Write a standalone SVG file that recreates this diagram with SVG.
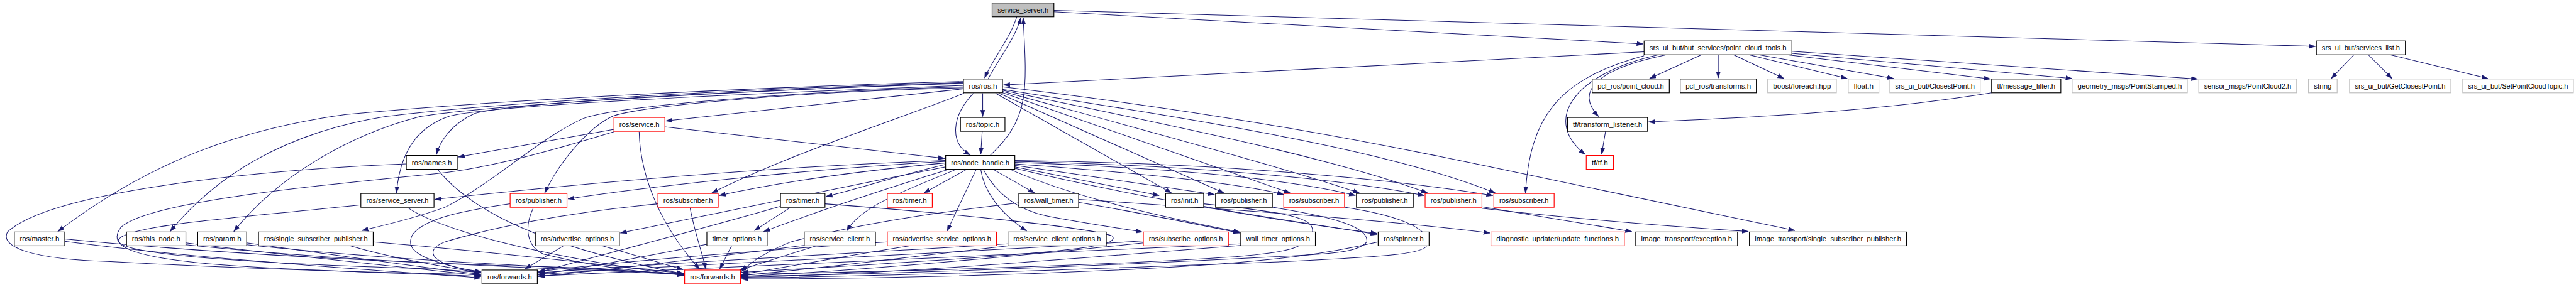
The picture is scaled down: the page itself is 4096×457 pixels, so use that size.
<svg xmlns="http://www.w3.org/2000/svg" width="4096" height="457" viewBox="0 0 4096 457">
<style>
.b rect{fill:#fff;stroke:#000;stroke-width:1.5}
.r rect{fill:#fff;stroke:#f00;stroke-width:1.5}
.g rect{fill:#fff;stroke:#bfbfbf;stroke-width:1.5}
.root rect{fill:#bfbfbf;stroke:#000;stroke-width:1.5}
text{font-family:"Liberation Sans",Arial,sans-serif;font-size:13.5px;text-anchor:middle;fill:#000}
#edges path{fill:none;stroke:#191970;stroke-width:1.3;marker-end:url(#ah)}
</style>
<defs>
<marker id="ah" markerUnits="userSpaceOnUse" markerWidth="14" markerHeight="10" refX="13" refY="5" orient="auto"><path d="M0,0.5 L13,5 L0,9.5 z" fill="#191970" stroke="#191970" stroke-width="0.5"/></marker>
</defs>
<rect width="4096" height="457" fill="#fff"/>
<g transform="scale(0.786)">
<g id="edges">
<path d="M2057,34 C2045,75 2005,125 1992,158"/>
<path d="M1999,160 C2020,120 2055,75 2065,36"/>
<path d="M2003,315 C2035,285 2062,250 2070,200 C2078,150 2072,90 2070,36"/>
<path d="M2132,24 L3324,89"/>
<path d="M2132,21 L4684,94"/>
<path d="M3326,105 L2030,172"/>
<path d="M1988,189 L1988,236"/>
<path d="M1969,189 C1925,235 1920,290 1963,314"/>
<path d="M1987,266 L1984,313"/>
<path d="M3442,111 L3337,159"/>
<path d="M3476,111 L3476,158"/>
<path d="M3507,111 L3609,159"/>
<path d="M3538,111 L3737,159"/>
<path d="M3558,111 L3831,159"/>
<path d="M3615,111 L4027,160"/>
<path d="M3625,108 L4192,159"/>
<path d="M3625,104 L4446,160"/>
<path d="M3371,111 C3230,140 3185,185 3234,236"/>
<path d="M3355,111 C3180,150 3120,245 3207,313"/>
<path d="M3326,113 C3150,160 3095,240 3086,391"/>
<path d="M3248,266 L3240,313"/>
<path d="M4029,188 C3800,225 3550,238 3335,247"/>
<path d="M4762,111 L4716,159"/>
<path d="M4791,111 L4839,159"/>
<path d="M4835,111 L5033,159"/>
<path d="M1949,180 L1347,245"/>
<path d="M1949,168 C1500,185 1050,205 960,230 C915,250 890,285 883,313"/>
<path d="M1949,165 C1500,178 1000,203 700,232 C480,262 300,330 117,469"/>
<path d="M1949,167 C1500,180 1000,208 780,236 C600,265 450,340 344,469"/>
<path d="M1949,169 C1500,183 1000,212 850,236 C700,275 560,360 473,469"/>
<path d="M1949,173 C1500,190 1000,212 910,235 C850,255 810,300 802,391"/>
<path d="M1949,176 C1600,185 1250,215 1180,240 C1090,280 1000,370 900,420 C830,445 770,458 732,467"/>
<path d="M1949,178 C1600,186 1300,215 1240,235 C1190,258 1130,330 1102,391"/>
<path d="M1950,189 C1850,230 1600,310 1440,391"/>
<path d="M2014,189 L2370,391"/>
<path d="M2021,189 L2476,391"/>
<path d="M2026,187 L2610,391"/>
<path d="M2028,185 C2300,260 2600,340 2750,391"/>
<path d="M2028,183 C2350,250 2700,320 2888,391"/>
<path d="M2028,181 C2400,240 2800,300 3025,391"/>
<path d="M2028,176 C2400,220 2700,272 3000,335 L3631,467"/>
<path d="M1345,257 L1911,321"/>
<path d="M1242,262 L927,318"/>
<path d="M1242,267 C1150,295 1000,340 880,352 C600,380 300,410 245,460 C215,500 260,525 500,540 C700,552 900,556 973,560"/>
<path d="M1293,267 C1295,350 1330,450 1415,545"/>
<path d="M822,332 C500,345 100,390 15,470 C0,500 60,525 224,530 C500,545 800,553 973,556"/>
<path d="M885,343 C940,410 1050,490 1383,555"/>
<path d="M730,415 C500,440 260,455 240,485 C230,510 400,530 880,545 L973,552"/>
<path d="M825,421 C900,470 1100,520 1383,558"/>
<path d="M131,489 C400,525 800,550 973,563"/>
<path d="M131,484 C500,520 900,535 1100,540 C1250,545 1330,552 1383,557"/>
<path d="M376,492 C600,520 850,545 973,558"/>
<path d="M376,496 C700,530 1000,538 1383,556"/>
<path d="M499,492 C700,520 880,545 973,556"/>
<path d="M499,496 C800,528 1100,540 1383,555"/>
<path d="M709,498 C800,525 900,540 973,553"/>
<path d="M755,490 C1000,510 1250,540 1383,554"/>
<path d="M1032,413 C950,425 860,440 835,475 C815,510 860,530 973,552"/>
<path d="M1079,421 C1060,460 1065,500 1100,515 C1200,540 1300,552 1383,557"/>
<path d="M1140,498 L1062,545"/>
<path d="M1219,498 L1382,546"/>
<path d="M1396,421 C1405,470 1420,510 1428,545"/>
<path d="M1331,413 C1150,430 1000,460 900,490 C850,510 880,540 973,550"/>
<path d="M1598,421 L1526,467"/>
<path d="M1579,418 C1400,470 1200,520 1089,552"/>
<path d="M1669,413 C1900,430 2200,460 2250,478 C2265,495 2200,505 2000,520 C1800,535 1600,545 1500,552"/>
<path d="M1430,495 C1300,520 1200,540 1089,556"/>
<path d="M1480,498 L1456,545"/>
<path d="M1627,497 C1450,520 1250,545 1089,560"/>
<path d="M1651,498 L1496,547"/>
<path d="M1913,327 C1600,345 1300,380 1149,403"/>
<path d="M1913,325 C1500,340 1100,380 880,404"/>
<path d="M1913,330 C1700,350 1550,375 1455,396"/>
<path d="M1913,333 C1800,360 1730,385 1671,398"/>
<path d="M1913,338 C1700,380 1500,420 1255,472"/>
<path d="M1920,343 C1800,380 1650,430 1545,469"/>
<path d="M1935,343 C1820,390 1740,420 1713,468"/>
<path d="M1956,343 L1869,391"/>
<path d="M2009,343 L2093,391"/>
<path d="M1975,343 L1916,468"/>
<path d="M1984,343 C1990,385 2020,430 2077,468"/>
<path d="M1989,343 C2017,395 2060,425 2115,437 C2180,450 2250,460 2311,470"/>
<path d="M2053,338 L2345,396"/>
<path d="M2053,335 L2457,394"/>
<path d="M2053,332 C2300,350 2500,370 2597,394"/>
<path d="M2053,329 C2350,340 2600,360 2742,396"/>
<path d="M2053,327 C2400,335 2700,360 2881,396"/>
<path d="M2053,325 C2450,330 2800,360 3020,396"/>
<path d="M2043,343 C2150,390 2300,430 2508,470"/>
<path d="M2053,341 C2300,400 2600,450 2786,473"/>
<path d="M2182,404 C2500,425 2800,445 3014,472"/>
<path d="M2182,410 C2300,430 2400,450 2508,472"/>
<path d="M2061,411 C1900,430 1750,450 1600,490 C1550,510 1520,530 1500,550"/>
<path d="M2435,418 C2550,440 2700,460 2786,475"/>
<path d="M2435,413 C2600,430 2660,440 2655,470 C2640,500 2620,510 2500,520 C2200,540 1800,550 1500,556"/>
<path d="M2574,420 C2700,440 2770,460 2765,490 C2750,510 2700,515 2580,520 C2200,540 1800,555 1500,560"/>
<path d="M2720,420 C2850,440 2900,470 2885,500 C2870,515 2800,520 2600,530 C2200,545 1800,560 1500,563"/>
<path d="M2998,419 L3301,469"/>
<path d="M2998,422 C3200,445 3400,460 3537,469"/>
<path d="M1840,498 C1700,520 1600,540 1500,556"/>
<path d="M2039,498 C1800,525 1650,545 1500,558"/>
<path d="M2313,492 C2000,525 1700,550 1500,560"/>
<path d="M2510,497 C2100,530 1800,555 1500,562"/>
<path d="M2788,490 C2700,510 2600,530 2300,545 C2000,560 1700,565 1500,565"/>
<path d="M1795,490 C1500,510 1250,530 1089,550"/>
<path d="M2039,494 C1700,515 1300,535 1089,553"/>
<path d="M2313,488 C1900,515 1400,535 1089,556"/>
<path d="M2510,494 C2000,520 1500,540 1089,559"/>
</g>
<g id="n_root" class="root"><rect x="2007" y="6" width="125" height="28"/><text x="2069.5" y="25" textLength="103" lengthAdjust="spacingAndGlyphs">service_server.h</text></g>
<g id="n_but" class="b"><rect x="3326" y="83" width="299" height="28"/><text x="3475.5" y="102" textLength="277" lengthAdjust="spacingAndGlyphs">srs_ui_but/but_services/point_cloud_tools.h</text></g>
<g id="n_slist" class="b"><rect x="4686" y="83" width="180" height="28"/><text x="4776" y="102" textLength="158" lengthAdjust="spacingAndGlyphs">srs_ui_but/services_list.h</text></g>
<g id="n_rosh" class="b"><rect x="1949" y="160" width="79" height="28"/><text x="1988.5" y="179" textLength="57" lengthAdjust="spacingAndGlyphs">ros/ros.h</text></g>
<g id="n_pclpc" class="b"><rect x="3221" y="160" width="156" height="28"/><text x="3299" y="179" textLength="134" lengthAdjust="spacingAndGlyphs">pcl_ros/point_cloud.h</text></g>
<g id="n_pcltr" class="b"><rect x="3399" y="160" width="154" height="28"/><text x="3476" y="179" textLength="132" lengthAdjust="spacingAndGlyphs">pcl_ros/transforms.h</text></g>
<g id="n_boost" class="g"><rect x="3576" y="160" width="139" height="28"/><text x="3645.5" y="179" textLength="117" lengthAdjust="spacingAndGlyphs">boost/foreach.hpp</text></g>
<g id="n_float" class="g"><rect x="3739" y="160" width="62" height="28"/><text x="3770" y="179" textLength="40" lengthAdjust="spacingAndGlyphs">float.h</text></g>
<g id="n_closest" class="g"><rect x="3823" y="160" width="183" height="28"/><text x="3914.5" y="179" textLength="161" lengthAdjust="spacingAndGlyphs">srs_ui_but/ClosestPoint.h</text></g>
<g id="n_msgfilter" class="b"><rect x="4029" y="160" width="140" height="28"/><text x="4099" y="179" textLength="118" lengthAdjust="spacingAndGlyphs">tf/message_filter.h</text></g>
<g id="n_pointst" class="g"><rect x="4192" y="160" width="233" height="28"/><text x="4308.5" y="179" textLength="211" lengthAdjust="spacingAndGlyphs">geometry_msgs/PointStamped.h</text></g>
<g id="n_pc2" class="g"><rect x="4448" y="160" width="198" height="28"/><text x="4547" y="179" textLength="176" lengthAdjust="spacingAndGlyphs">sensor_msgs/PointCloud2.h</text></g>
<g id="n_string" class="g"><rect x="4670" y="160" width="58" height="28"/><text x="4699" y="179" textLength="36" lengthAdjust="spacingAndGlyphs">string</text></g>
<g id="n_getcl" class="g"><rect x="4753" y="160" width="205" height="28"/><text x="4855.5" y="179" textLength="183" lengthAdjust="spacingAndGlyphs">srs_ui_but/GetClosestPoint.h</text></g>
<g id="n_setpc" class="g"><rect x="4982" y="160" width="224" height="28"/><text x="5094" y="179" textLength="202" lengthAdjust="spacingAndGlyphs">srs_ui_but/SetPointCloudTopic.h</text></g>
<g id="n_topic" class="b"><rect x="1943" y="238" width="90" height="28"/><text x="1988" y="257" textLength="68" lengthAdjust="spacingAndGlyphs">ros/topic.h</text></g>
<g id="n_service" class="r"><rect x="1242" y="238" width="103" height="28"/><text x="1293.5" y="257" textLength="81" lengthAdjust="spacingAndGlyphs">ros/service.h</text></g>
<g id="n_tflist" class="b"><rect x="3171" y="238" width="162" height="28"/><text x="3252" y="257" textLength="140" lengthAdjust="spacingAndGlyphs">tf/transform_listener.h</text></g>
<g id="n_names" class="b"><rect x="822" y="315" width="103" height="28"/><text x="873.5" y="334" textLength="81" lengthAdjust="spacingAndGlyphs">ros/names.h</text></g>
<g id="n_nh" class="b"><rect x="1913" y="315" width="140" height="28"/><text x="1983" y="334" textLength="118" lengthAdjust="spacingAndGlyphs">ros/node_handle.h</text></g>
<g id="n_tf" class="r"><rect x="3209" y="315" width="55" height="28"/><text x="3236.5" y="334" textLength="33" lengthAdjust="spacingAndGlyphs">tf/tf.h</text></g>
<g id="n_rss" class="b"><rect x="730" y="392" width="148" height="28"/><text x="804" y="411" textLength="126" lengthAdjust="spacingAndGlyphs">ros/service_server.h</text></g>
<g id="n_pub1" class="r"><rect x="1032" y="392" width="115" height="28"/><text x="1089.5" y="411" textLength="93" lengthAdjust="spacingAndGlyphs">ros/publisher.h</text></g>
<g id="n_sub1" class="r"><rect x="1331" y="392" width="122" height="28"/><text x="1392" y="411" textLength="100" lengthAdjust="spacingAndGlyphs">ros/subscriber.h</text></g>
<g id="n_timer" class="b"><rect x="1579" y="392" width="90" height="28"/><text x="1624" y="411" textLength="68" lengthAdjust="spacingAndGlyphs">ros/timer.h</text></g>
<g id="n_timer2" class="r"><rect x="1795" y="392" width="91" height="28"/><text x="1840.5" y="411" textLength="69" lengthAdjust="spacingAndGlyphs">ros/timer.h</text></g>
<g id="n_wtimer" class="b"><rect x="2061" y="392" width="121" height="28"/><text x="2121.5" y="411" textLength="99" lengthAdjust="spacingAndGlyphs">ros/wall_timer.h</text></g>
<g id="n_init" class="b"><rect x="2358" y="392" width="77" height="28"/><text x="2396.5" y="411" textLength="55" lengthAdjust="spacingAndGlyphs">ros/init.h</text></g>
<g id="n_pub2" class="b"><rect x="2459" y="392" width="115" height="28"/><text x="2516.5" y="411" textLength="93" lengthAdjust="spacingAndGlyphs">ros/publisher.h</text></g>
<g id="n_sub2" class="r"><rect x="2597" y="392" width="123" height="28"/><text x="2658.5" y="411" textLength="101" lengthAdjust="spacingAndGlyphs">ros/subscriber.h</text></g>
<g id="n_pub3" class="b"><rect x="2744" y="392" width="115" height="28"/><text x="2801.5" y="411" textLength="93" lengthAdjust="spacingAndGlyphs">ros/publisher.h</text></g>
<g id="n_pub4" class="r"><rect x="2883" y="392" width="115" height="28"/><text x="2940.5" y="411" textLength="93" lengthAdjust="spacingAndGlyphs">ros/publisher.h</text></g>
<g id="n_sub3" class="r"><rect x="3022" y="392" width="122" height="28"/><text x="3083" y="411" textLength="100" lengthAdjust="spacingAndGlyphs">ros/subscriber.h</text></g>
<g id="n_master" class="b"><rect x="29" y="470" width="102" height="28"/><text x="80" y="489" textLength="80" lengthAdjust="spacingAndGlyphs">ros/master.h</text></g>
<g id="n_thisnode" class="b"><rect x="256" y="470" width="120" height="28"/><text x="316" y="489" textLength="98" lengthAdjust="spacingAndGlyphs">ros/this_node.h</text></g>
<g id="n_param" class="b"><rect x="400" y="470" width="99" height="28"/><text x="449.5" y="489" textLength="77" lengthAdjust="spacingAndGlyphs">ros/param.h</text></g>
<g id="n_ssp" class="b"><rect x="523" y="470" width="232" height="28"/><text x="639" y="489" textLength="210" lengthAdjust="spacingAndGlyphs">ros/single_subscriber_publisher.h</text></g>
<g id="n_advopt" class="b"><rect x="1083" y="470" width="170" height="28"/><text x="1168" y="489" textLength="148" lengthAdjust="spacingAndGlyphs">ros/advertise_options.h</text></g>
<g id="n_timeropt" class="b"><rect x="1430" y="470" width="122" height="28"/><text x="1491" y="489" textLength="100" lengthAdjust="spacingAndGlyphs">timer_options.h</text></g>
<g id="n_sclient" class="b"><rect x="1627" y="470" width="144" height="28"/><text x="1699" y="489" textLength="122" lengthAdjust="spacingAndGlyphs">ros/service_client.h</text></g>
<g id="n_asopt" class="r"><rect x="1795" y="470" width="221" height="28"/><text x="1905.5" y="489" textLength="199" lengthAdjust="spacingAndGlyphs">ros/advertise_service_options.h</text></g>
<g id="n_scopt" class="b"><rect x="2039" y="470" width="199" height="28"/><text x="2138.5" y="489" textLength="177" lengthAdjust="spacingAndGlyphs">ros/service_client_options.h</text></g>
<g id="n_subopt" class="r"><rect x="2313" y="470" width="172" height="28"/><text x="2399" y="489" textLength="150" lengthAdjust="spacingAndGlyphs">ros/subscribe_options.h</text></g>
<g id="n_wtopt" class="b"><rect x="2510" y="470" width="151" height="28"/><text x="2585.5" y="489" textLength="129" lengthAdjust="spacingAndGlyphs">wall_timer_options.h</text></g>
<g id="n_spinner" class="b"><rect x="2788" y="470" width="103" height="28"/><text x="2839.5" y="489" textLength="81" lengthAdjust="spacingAndGlyphs">ros/spinner.h</text></g>
<g id="n_diag" class="r"><rect x="3016" y="470" width="270" height="28"/><text x="3151" y="489" textLength="248" lengthAdjust="spacingAndGlyphs">diagnostic_updater/update_functions.h</text></g>
<g id="n_itexc" class="b"><rect x="3309" y="470" width="206" height="28"/><text x="3412" y="489" textLength="184" lengthAdjust="spacingAndGlyphs">image_transport/exception.h</text></g>
<g id="n_itssp" class="b"><rect x="3539" y="470" width="318" height="28"/><text x="3698" y="489" textLength="296" lengthAdjust="spacingAndGlyphs">image_transport/single_subscriber_publisher.h</text></g>
<g id="n_fwd1" class="b"><rect x="975" y="547" width="112" height="28"/><text x="1031" y="566" textLength="90" lengthAdjust="spacingAndGlyphs">ros/forwards.h</text></g>
<g id="n_fwd2" class="r"><rect x="1385" y="547" width="113" height="28"/><text x="1441.5" y="566" textLength="91" lengthAdjust="spacingAndGlyphs">ros/forwards.h</text></g>
</g>
</svg>
